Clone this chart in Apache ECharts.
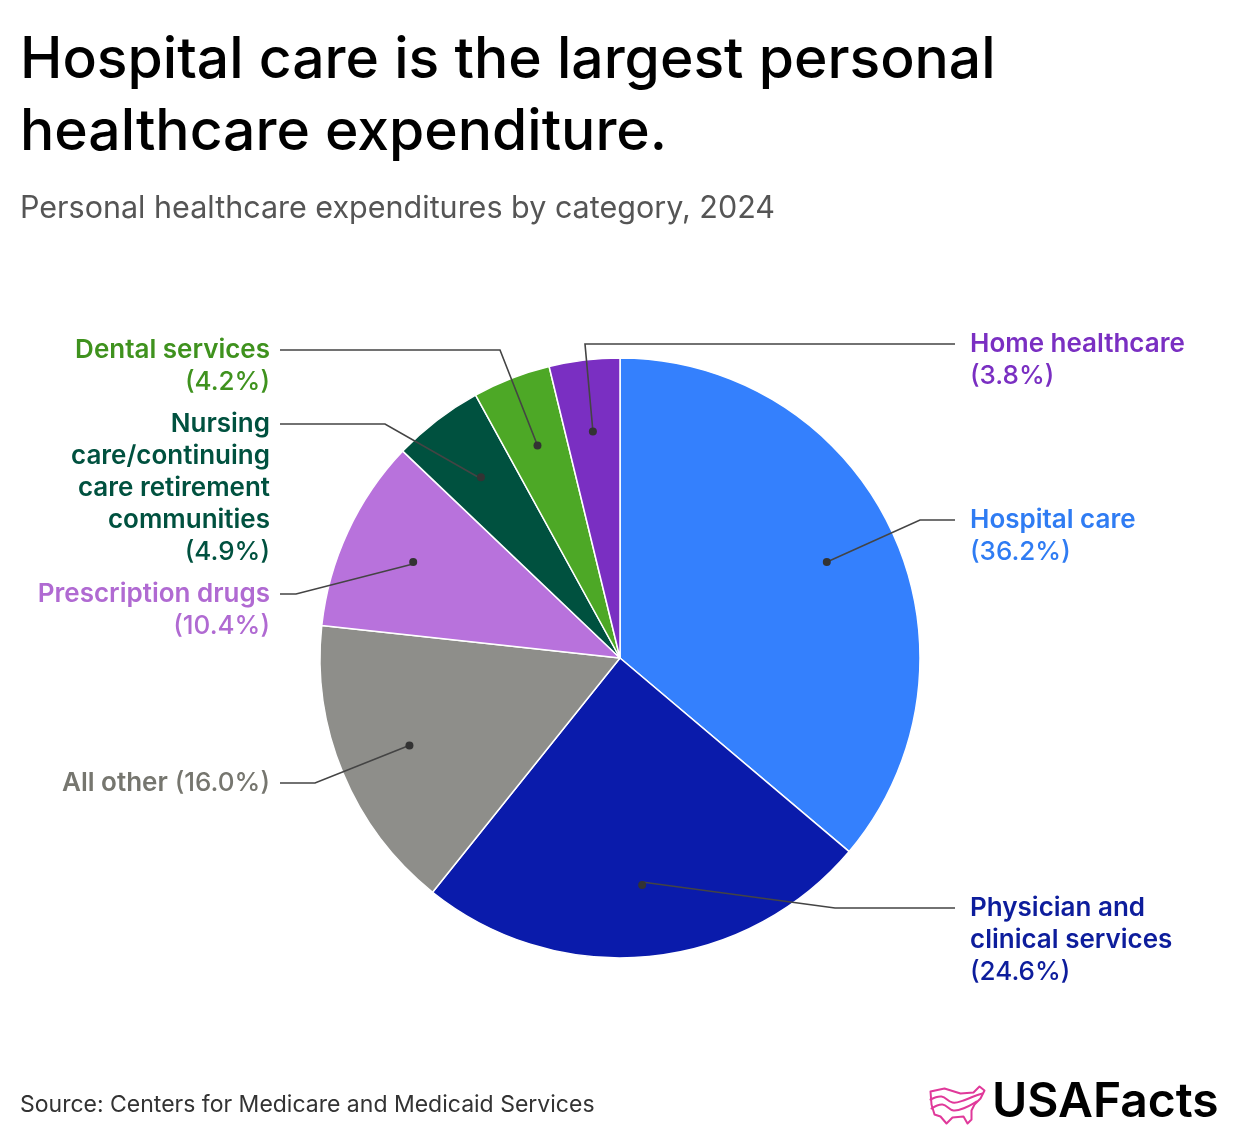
<!DOCTYPE html>
<html>
<head>
<meta charset="utf-8">
<title>Personal healthcare expenditures by category, 2024</title>
<script src="https://cdn.jsdelivr.net/npm/echarts@6/dist/echarts.min.js"></script>
<style>
  html, body { margin: 0; padding: 0; background: #fff; }
  #chart { width: 1240px; height: 1144px; }
</style>
</head>
<body>
<div id="chart"></div>
<script>
// data, clockwise from 12 o'clock
const categories = [
  "Hospital care",
  "Physician and clinical services",
  "All other",
  "Prescription drugs",
  "Nursing care/continuing care retirement communities",
  "Dental services",
  "Home healthcare",
];
const shares = [36.2, 24.6, 16.0, 10.4, 4.9, 4.2, 3.8];
const labelNames = [
  "Hospital care",
  "Physician and\nclinical services",
  "All other",
  "Prescription drugs",
  "Nursing\ncare/continuing\ncare retirement\ncommunities",
  "Dental services",
  "Home healthcare",
];

// styles
const sliceColors = ["#3480fd", "#0a1bab", "#8e8e8a", "#b872dc", "#00513f", "#4da826", "#7a2fc2"];
const textColors = ["#2f7cf3", "#0d1d9c", "#76766f", "#b06ad2", "#00513f", "#3f921e", "#7a2fc2"];
const labelSide = ["right", "right", "left", "left", "left", "left", "right"];
const labelY = [520, 908, 783, 594, 424, 350, 344];
const bendX = [920, 835, 315, 296, 385, 500, 585];
const inlinePct = [false, false, true, false, false, false, false];

const CX = 620, CY = 658, R = 300;
const FONT = "Inter, 'Noto Sans', sans-serif";

const total = shares.reduce((a, b) => a + b, 0);
let acc = 0;
const midAngles = shares.map((v) => {
  const m = (acc + v / 2) / total * Math.PI * 2;
  acc += v;
  return m;
});

const chart = echarts.init(document.getElementById("chart"), null, { renderer: "canvas" });

const richFor = (color) => {
  const base = { fontFamily: FONT, fontSize: 26, lineHeight: 32, color: color };
  return {
    nl: Object.assign({}, base, { fontWeight: 600, align: "left" }),
    pl: Object.assign({}, base, { fontWeight: 500, align: "left" }),
    nr: Object.assign({}, base, { fontWeight: 600, align: "right" }),
    pr: Object.assign({}, base, { fontWeight: 500, align: "right" }),
  };
};

const labelData = categories.map((name, i) => {
  const s = labelSide[i] === "left" ? "r" : "l";
  const pct = "(" + shares[i].toFixed(1) + "%)";
  const nameLines = labelNames[i].split("\n").map((t) => "{n" + s + "|" + t + "}");
  let text;
  if (inlinePct[i]) {
    nameLines[nameLines.length - 1] += "{p" + s + "| " + pct + "}";
    text = nameLines.join("\n");
  } else {
    text = nameLines.join("\n") + "\n{p" + s + "|" + pct + "}";
  }
  return {
    name: name,
    value: shares[i],
    label: { formatter: text, rich: richFor(textColors[i]) },
  };
});

const clear = { color: "rgba(0,0,0,0)", borderWidth: 0 };
const iconStroke = { fill: null, stroke: "#e0399a", lineWidth: 2, lineJoin: "round", lineCap: "round" };

const option = {
  backgroundColor: "#ffffff",
  animation: false,
  title: [
    {
      text: "Hospital care is the largest personal\nhealthcare expenditure.",
      left: 15,
      top: 20,
      textStyle: { fontFamily: FONT, fontSize: 57, fontWeight: 500, lineHeight: 72, color: "#000000" },
    },
    {
      text: "Personal healthcare expenditures by category, 2024",
      left: 15,
      top: 186,
      textStyle: { fontFamily: FONT, fontSize: 30.5, fontWeight: 400, lineHeight: 36, color: "#555555" },
    },
    {
      text: "Source: Centers for Medicare and Medicaid Services",
      left: 15,
      top: 1087,
      textStyle: { fontFamily: FONT, fontSize: 23, fontWeight: 400, lineHeight: 26, color: "#333333" },
    },
  ],
  series: [
    {
      // coloured slices
      type: "pie",
      z: 2,
      center: [CX, CY],
      radius: R,
      startAngle: 90,
      clockwise: true,
      silent: true,
      itemStyle: { borderColor: "#ffffff", borderWidth: 1.5 },
      label: { show: false },
      labelLine: { show: false },
      data: shares.map((v, i) => ({ name: categories[i], value: v, itemStyle: { color: sliceColors[i] } })),
    },
    {
      // text labels and leader lines
      type: "pie",
      z: 5,
      center: [CX, CY],
      radius: R,
      startAngle: 90,
      clockwise: true,
      silent: true,
      avoidLabelOverlap: false,
      itemStyle: clear,
      label: { show: true, position: "outside" },
      labelLine: { show: true, showAbove: true, lineStyle: { color: "#444444", width: 1.6 } },
      labelLayout: function (p) {
        const i = p.dataIndex;
        const a = midAngles[i];
        const dot = [CX + Math.sin(a) * R * 0.75, CY - Math.cos(a) * R * 0.75];
        const left = labelSide[i] === "left";
        const y = labelY[i];
        return {
          x: left ? 270 : 970,
          y: y - 16,
          align: left ? "right" : "left",
          verticalAlign: "top",
          labelLinePoints: [dot, [bendX[i], y], [left ? 280 : 955, y]],
        };
      },
      data: labelData,
    },
    {
      // dots at the inner end of each leader line
      type: "pie",
      z: 6,
      center: [CX, CY],
      radius: [R * 0.5, R],
      startAngle: 90,
      clockwise: true,
      silent: true,
      itemStyle: clear,
      label: {
        show: true,
        position: "inside",
        formatter: "{d|}",
        rich: { d: { width: 8, height: 8, borderRadius: 4, backgroundColor: "#333333" } },
      },
      labelLine: { show: false },
      data: shares.map((v, i) => ({ name: categories[i], value: v })),
    },
  ],
  graphic: [
    {
      type: "group",
      left: 928,
      top: 1084,
      children: [
        {
          type: "polygon",
          shape: {
            points: [[1, 6], [15, 3], [31, 8], [44, 7], [50, 1], [55, 5], [51, 13], [45, 19], [42, 25], [42, 34],
              [38, 38], [34, 31], [23, 32], [17, 38], [11, 31], [5, 29], [2, 19]],
          },
          style: iconStroke,
        },
        {
          type: "polyline",
          shape: { points: [[1, 14], [12, 11], [23, 17], [34, 15], [44, 11], [53, 8]], smooth: 0.4 },
          style: iconStroke,
        },
        {
          type: "polyline",
          shape: { points: [[2, 23], [13, 19], [24, 25], [36, 22], [47, 16]], smooth: 0.4 },
          style: iconStroke,
        },
      ],
    },
    {
      type: "text",
      left: 992,
      top: 1079,
      style: {
        text: "USAFacts",
        fontFamily: FONT,
        fontSize: 48,
        fontWeight: 600,
        fill: "#000000",
      },
    },
  ],
};

chart.setOption(option);
</script>
</body>
</html>
